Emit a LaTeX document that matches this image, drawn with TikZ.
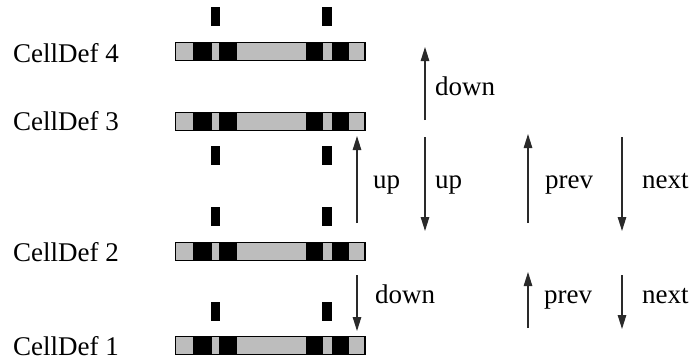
\documentclass[tikz,border=0pt]{standalone}
\usepackage{fontspec}
\setmainfont{Liberation Serif}
\usetikzlibrary{arrows.meta}
\definecolor{lightcell}{HTML}{BDBDBD}
\definecolor{ink}{HTML}{2A2A2A}

% one CellDef bar: #1 node name, #2 top edge
\newcommand\cellrow[2]{%
  \node[cellbar] (#1) at (175.5,#2) {};
  \foreach \a/\b in {193/212,219/237,306/323,332/349}
    \fill (\a,#2) rectangle (\b,#2+18);
  \draw[line width=1.2pt] (#1.north west) rectangle (#1.south east);
}

\begin{document}
\begin{tikzpicture}[x=1pt,y=-1pt,
  lbl/.style={anchor=base west,inner sep=0pt,font=\fontsize{27}{32}\selectfont},
  ptr/.style={draw=ink,line width=1.2pt,-{Triangle[length=14pt,width=8.5pt]}},
  cellbar/.style={fill=lightcell,minimum width=189.5pt,minimum height=18pt,
    inner sep=0pt,outer sep=0pt,anchor=north west},
  tickmark/.style={fill=black,minimum width=9.5pt,minimum height=19pt,
    inner sep=0pt,outer sep=0pt}]
\useasboundingbox (0,0) rectangle (692,362);

% cell bars
\cellrow{bar4}{42.5}
\cellrow{bar3}{112.5}
\cellrow{bar2}{242.5}
\cellrow{bar1}{336.5}

% names
\node[lbl] (n4) at (13,62) {CellDef 4};
\node[lbl] (n3) at (13,130) {CellDef 3};
\node[lbl] (n2) at (13,261) {CellDef 2};
\node[lbl] (n1) at (13,355) {CellDef 1};

% small marks
\node[tickmark] (m4a) at (215.3,16.5) {};
\node[tickmark] (m4b) at (327,16.5) {};
\node[tickmark] (m3a) at (215.3,155.5) {};
\node[tickmark] (m3b) at (327,155.5) {};
\node[tickmark] (m2a) at (215.3,216.5) {};
\node[tickmark] (m2b) at (327,216.5) {};
\node[tickmark] (m1a) at (215.3,311.5) {};
\node[tickmark] (m1b) at (327,311.5) {};

% pointer end points
\coordinate (d4s) at (425,120);  \coordinate (d4e) at (425,47);
\coordinate (u3s) at (357,223);  \coordinate (u3e) at (357,136);
\coordinate (u2s) at (425,137);  \coordinate (u2e) at (425,231);
\coordinate (p1s) at (528,223);  \coordinate (p1e) at (528,134);
\coordinate (x1s) at (622,137);  \coordinate (x1e) at (622,231);
\coordinate (d2s) at (357,275);  \coordinate (d2e) at (357,331);
\coordinate (p2s) at (528,328);  \coordinate (p2e) at (528,272);
\coordinate (x2s) at (622,275);  \coordinate (x2e) at (622,329);

% pointers
\draw[ptr] (d4s) -- (d4e);
\draw[ptr] (u3s) -- (u3e);
\draw[ptr] (u2s) -- (u2e);
\draw[ptr] (p1s) -- (p1e);
\draw[ptr] (x1s) -- (x1e);
\draw[ptr] (d2s) -- (d2e);
\draw[ptr] (p2s) -- (p2e);
\draw[ptr] (x2s) -- (x2e);

% pointer labels
\node[lbl] (l1) at (435,95) {down};
\node[lbl] (l2) at (373,188) {up};
\node[lbl] (l3) at (435,188) {up};
\node[lbl] (l4) at (545,188) {prev};
\node[lbl] (l5) at (642,188) {next};
\node[lbl] (l6) at (375,303) {down};
\node[lbl] (l7) at (544,303) {prev};
\node[lbl] (l8) at (642,303) {next};
\end{tikzpicture}
\end{document}
